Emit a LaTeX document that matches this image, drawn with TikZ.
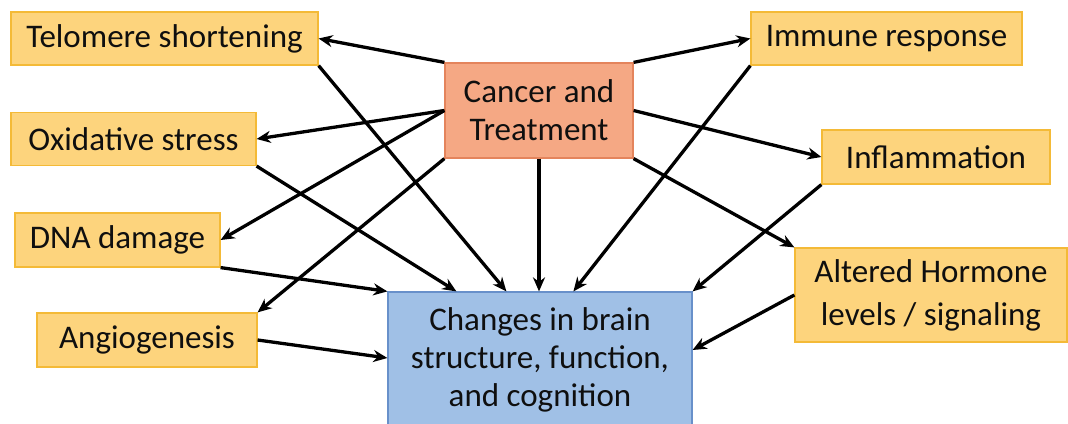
\documentclass[tikz,border=0pt]{standalone}
\usepackage{fontspec}
\setmainfont{Carlito}
\usetikzlibrary{arrows.meta}
\definecolor{yfill}{RGB}{253,212,125}
\definecolor{ydraw}{RGB}{244,186,55}
\definecolor{sfill}{RGB}{245,168,132}
\definecolor{sdraw}{RGB}{228,132,92}
\definecolor{bfill}{RGB}{160,192,230}
\definecolor{bdraw}{RGB}{104,144,202}
\definecolor{txt}{RGB}{15,15,15}
\tikzset{
  box/.style={rectangle, draw, line width=1.2pt, inner sep=0pt, align=center,
    font=\fontsize{33}{38}\selectfont, text=txt},
  ybox/.style={box, fill=yfill, draw=ydraw},
  sbox/.style={box, fill=sfill, draw=sdraw},
  bbox/.style={box, fill=bfill, draw=bdraw},
  arr/.style={line width=3.3pt, -{Stealth[length=14pt,width=12pt]}},
}
\begin{document}
\begin{tikzpicture}[x=1pt,y=1pt]
\useasboundingbox (0,0) rectangle (1068,423);
% nodes (y = 423 - pixel y)
\node[ybox, minimum width=307pt, minimum height=53pt] (telo) at (164.5,384.5) {Telomere shortening};
\node[ybox, minimum width=245pt, minimum height=53pt] (oxi) at (133.5,284) {Oxidative stress};
\node[ybox, minimum width=205pt, minimum height=54pt] (dna) at (117.5,183) {DNA damage};
\node[ybox, minimum width=220pt, minimum height=54pt] (angio) at (147,83) {Angiogenesis};
\node[sbox, minimum width=188pt, minimum height=95pt] (cancer) at (539,312.5) {Cancer and\\Treatment};
\node[bbox, minimum width=304pt, minimum height=136pt] (changes) at (540,63) {Changes in brain\\structure, function,\\and cognition};
\node[ybox, minimum width=271pt, minimum height=53pt] (immune) at (886.5,384.5) {Immune response};
\node[ybox, minimum width=228pt, minimum height=54pt] (infl) at (936,266) {Inflammation};
\node[ybox, minimum width=272pt, minimum height=94pt, font=\fontsize{33}{43}\selectfont] (alt) at (931,128) {Altered Hormone\\levels / signaling};
% arrows from Cancer and Treatment
\draw[arr] (cancer.north west) -- (telo.east);
\draw[arr] (cancer.west) -- (oxi.east);
\draw[arr] (cancer.west) -- (dna.east);
\draw[arr] (cancer.south west) -- (angio.north east);
\draw[arr] (cancer.south) -- (cancer.south |- changes.north);
\draw[arr] (cancer.north east) -- (immune.west);
\draw[arr] (cancer.east) -- (infl.west);
\draw[arr] (cancer.south east) -- (alt.north west);
% arrows into Changes
\draw[arr] (telo.south east) -- ([xshift=119pt]changes.north west);
\draw[arr] (oxi.south east) -- ([xshift=69pt]changes.north west);
\draw[arr] (dna.south east) -- (changes.north west);
\draw[arr] (angio.east) -- ([yshift=2pt]changes.west);
\draw[arr] (immune.south west) -- ([xshift=186pt]changes.north west);
\draw[arr] (infl.south west) -- (changes.north east);
\draw[arr] (alt.west) -- ([yshift=10pt]changes.east);
\end{tikzpicture}
\end{document}
